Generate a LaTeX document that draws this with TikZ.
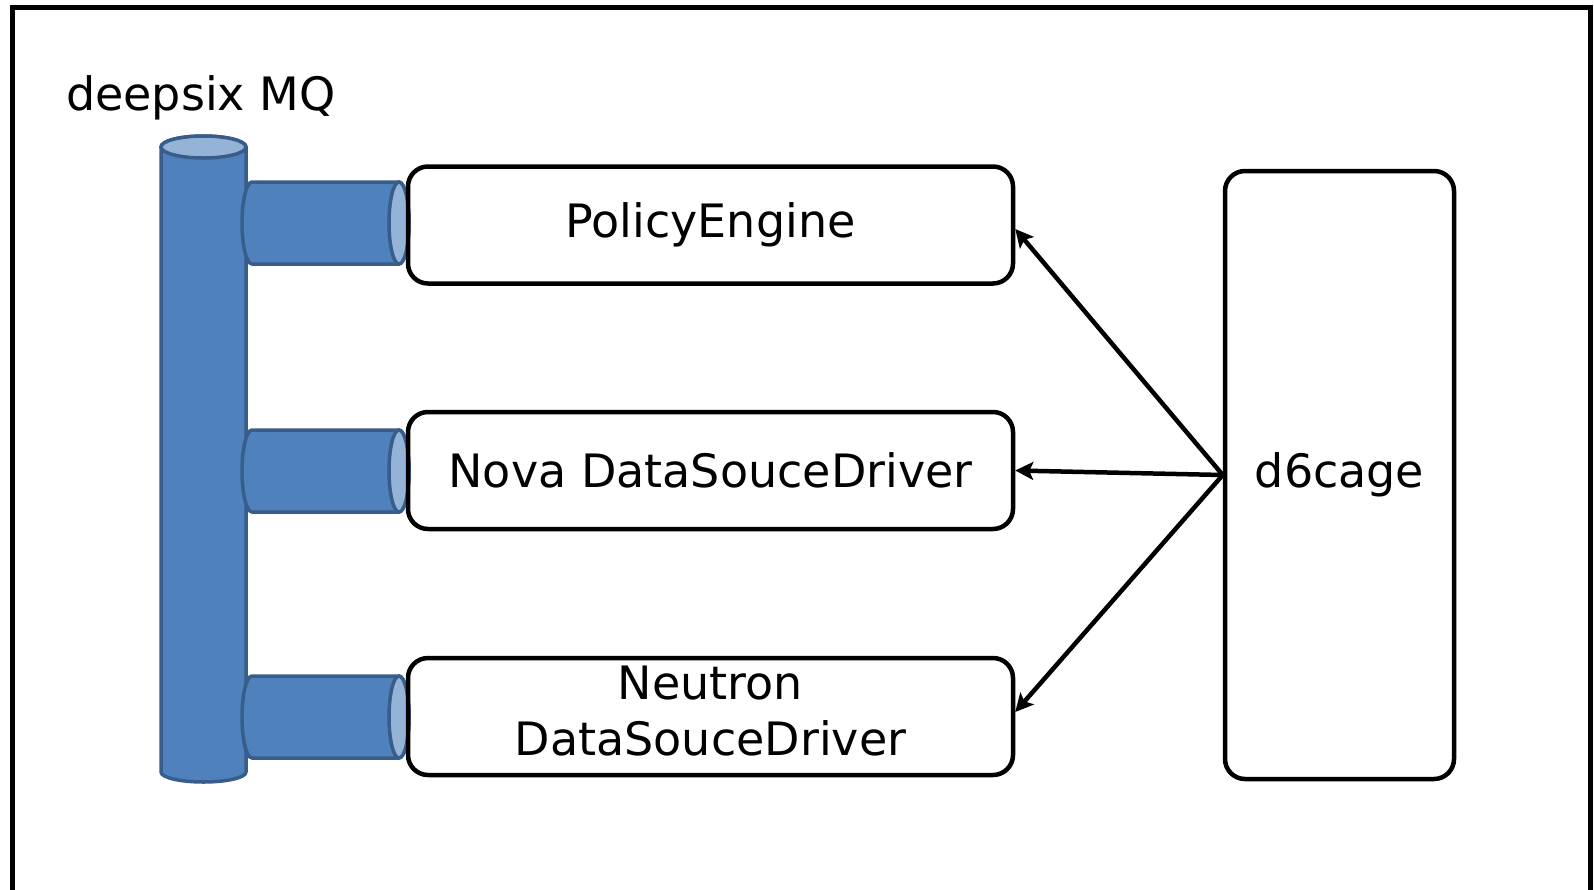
\documentclass[tikz,border=0pt]{standalone}
\usepackage{fontspec}
\setmainfont{DejaVu Sans}
\usetikzlibrary{arrows.meta}
\definecolor{cylfill}{HTML}{4F81BD}
\definecolor{cyledge}{HTML}{385D8A}
\definecolor{cylendc}{HTML}{95B3D7}
\begin{document}
\begin{tikzpicture}[x=1pt,y=-1pt,
  every node/.style={font=\fontsize{46}{56}\selectfont},
  box/.style={draw=black, line width=4.5pt, rounded corners=20pt, minimum width=605pt, minimum height=117pt, align=center, inner sep=0pt},
  cyl/.style={fill=cylfill, draw=cyledge, line width=3.5pt, line join=round},
  cylcap/.style={fill=cylendc, draw=cyledge, line width=3.5pt},
  conn/.style={line width=4.5pt, -{Stealth[length=18pt,width=18pt,inset=4pt]}}]
\useasboundingbox (0,0) rectangle (1594,889);
% frame
\draw[line width=5pt] (12.5,900) -- (12.5,7.5) -- (1590,7.5) -- (1590,900);
% title
\node[anchor=base west, inner sep=0pt] (mq) at (66,110) {deepsix MQ};
% vertical cylinder
\draw[cyl] (161,147) -- (161,772) arc[start angle=180,end angle=360,x radius=42.5pt,y radius=10pt] -- (246,147) arc[start angle=0,end angle=180,x radius=42.5pt,y radius=11pt] -- cycle;
\draw[cylcap] (203.5,147) ellipse[x radius=42.5pt, y radius=11pt];
% horizontal cylinders
\foreach \c in {223,471,717}{
  \draw[cyl] (252,\c-41) arc[start angle=90,end angle=270,x radius=10pt,y radius=41pt] -- (399,\c+41) arc[start angle=270,end angle=450,x radius=10pt,y radius=41pt] -- cycle;
  \draw[cylcap] (399,\c) ellipse[x radius=10pt, y radius=41pt];
}
% boxes
\node[box] (pe) at (710.5,225) {PolicyEngine};
\node[box] (nova) at (710.5,470.5) {Nova DataSouceDriver};
\node[box] (neutron) at (710.5,716.5) {\begin{tabular}{@{}c@{}}Neutron\\DataSouceDriver\end{tabular}};
\node[box, minimum width=229pt, minimum height=608pt] (cage) at (1339.5,475) {d6cage};
% connectors
\draw[conn] (cage.west) -- ([yshift=-4pt]pe.east);
\draw[conn] (cage.west) -- (nova.east);
\draw[conn] (cage.west) -- ([yshift=4.5pt]neutron.east);
\end{tikzpicture}
\end{document}
